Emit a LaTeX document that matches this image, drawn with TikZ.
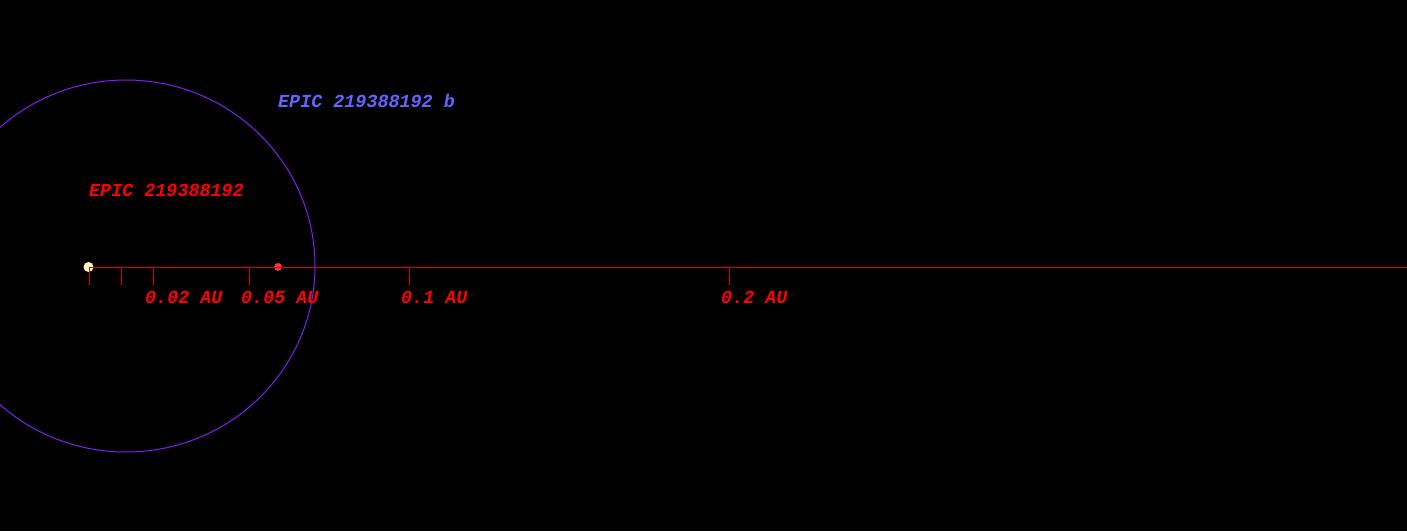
\documentclass[tikz,border=0pt]{standalone}
\usepackage{fontspec}
\setmonofont{Liberation Mono}
\usetikzlibrary{positioning}
\definecolor{axisred}{RGB}{225,0,0}
\definecolor{orbitviolet}{RGB}{128,30,245}
\definecolor{planetblue}{RGB}{100,100,255}
\definecolor{starcream}{RGB}{255,250,190}
\definecolor{planetred}{RGB}{235,60,60}
\tikzset{
  lbl/.style={anchor=base west, inner sep=0pt, font=\fontsize{18.4}{18}\selectfont\ttfamily\bfseries\itshape},
  ticklbl/.style={lbl, text=red},
  body/.style={circle, inner sep=0pt, minimum size=10pt}
}

\begin{document}
\begin{tikzpicture}[x=1pt, y=-1pt]
\fill[black] (0,0) rectangle (1407,531);
\useasboundingbox (0,0) rectangle (1407,531);
\begin{scope}
\clip (0,0) rectangle (1407,531);
\draw[orbitviolet, line width=1pt] (126,266) ellipse [x radius=189, y radius=186];
\end{scope}
\node[body, fill=starcream] (star) at (88.5,267) {};
\node[body, fill=planetred, minimum size=8pt] (planet) at (278,267) {};
\coordinate (axisend) at (1407,267);
\draw[axisred, line width=1pt] (star.center) -- (axisend);
\foreach \x/\n in {89/t0, 121/t1, 153/t2, 249/t5, 409/t10, 729/t20}
  \draw[axisred, line width=1pt] (\x,267) coordinate (\n) -- (\x,285);
\node[ticklbl] (lbltwo) at (145,303) {0.02 AU};
\node[ticklbl] (lblfive) at (241,303) {0.05 AU};
\node[ticklbl] (lblten) at (401,303) {0.1 AU};
\node[ticklbl] (lbltwenty) at (721,303) {0.2 AU};
\node[lbl, text=red] (starname) at (89,196) {EPIC 219388192};
\node[lbl, text=planetblue] (planetname) at (278,107) {EPIC 219388192 b};
\end{tikzpicture}
\end{document}
